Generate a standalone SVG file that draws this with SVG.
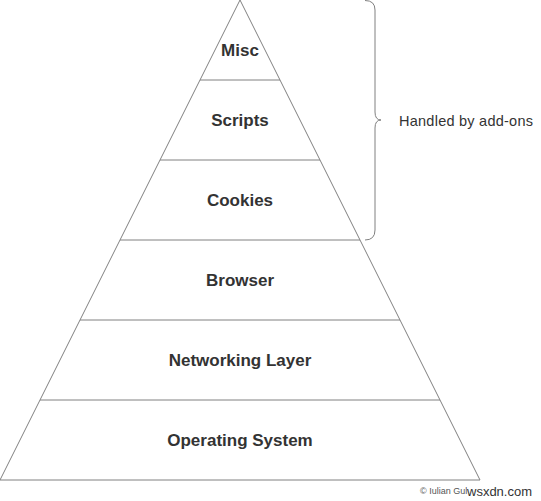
<svg xmlns="http://www.w3.org/2000/svg" width="541" height="501" viewBox="0 0 541 501">
<style>
.ln{fill:none;stroke:#808080;stroke-width:1}
.lb{font-family:"Liberation Sans",Arial,sans-serif;font-size:17px;font-weight:bold;fill:#333;text-anchor:middle}
</style>
<rect width="541" height="501" fill="#fff"/>
<g id="misc"><path class="ln" d="M240,0 L200,80 L280,80 Z"/><text class="lb" x="240" y="56">Misc</text></g>
<g id="scripts"><path class="ln" d="M200,80 L160,160 L320,160 L280,80"/><text class="lb" x="240" y="126">Scripts</text></g>
<g id="cookies"><path class="ln" d="M160,160 L120,240 L360,240 L320,160"/><text class="lb" x="240" y="206">Cookies</text></g>
<g id="browser"><path class="ln" d="M120,240 L80,320 L400,320 L360,240"/><text class="lb" x="240" y="286">Browser</text></g>
<g id="networking"><path class="ln" d="M80,320 L40,400 L440,400 L400,320"/><text class="lb" x="240" y="366">Networking Layer</text></g>
<g id="os"><path class="ln" d="M40,400 L0,480 L480,480 L440,400"/><text class="lb" x="240" y="446">Operating System</text></g>
<g id="connectors">
<path class="ln" d="M365,0.5 Q375,0.5 375,10 L375,112 Q375,120 381,120 Q375,120 375,128 L375,230 Q375,240 365,240"/>
</g>
<g id="note"><text x="399" y="126" font-family="Liberation Sans, Arial, sans-serif" font-size="14.5" fill="#333" textLength="134">Handled by add-ons</text></g>
<g id="credit">
<text x="420" y="494" font-family="Liberation Sans, Arial, sans-serif" font-size="9" fill="#555">© Iulian Gul</text>
<text x="467" y="496" font-family="Liberation Sans, Arial, sans-serif" font-size="13" fill="#333">wsxdn.com</text>
</g>
</svg>
